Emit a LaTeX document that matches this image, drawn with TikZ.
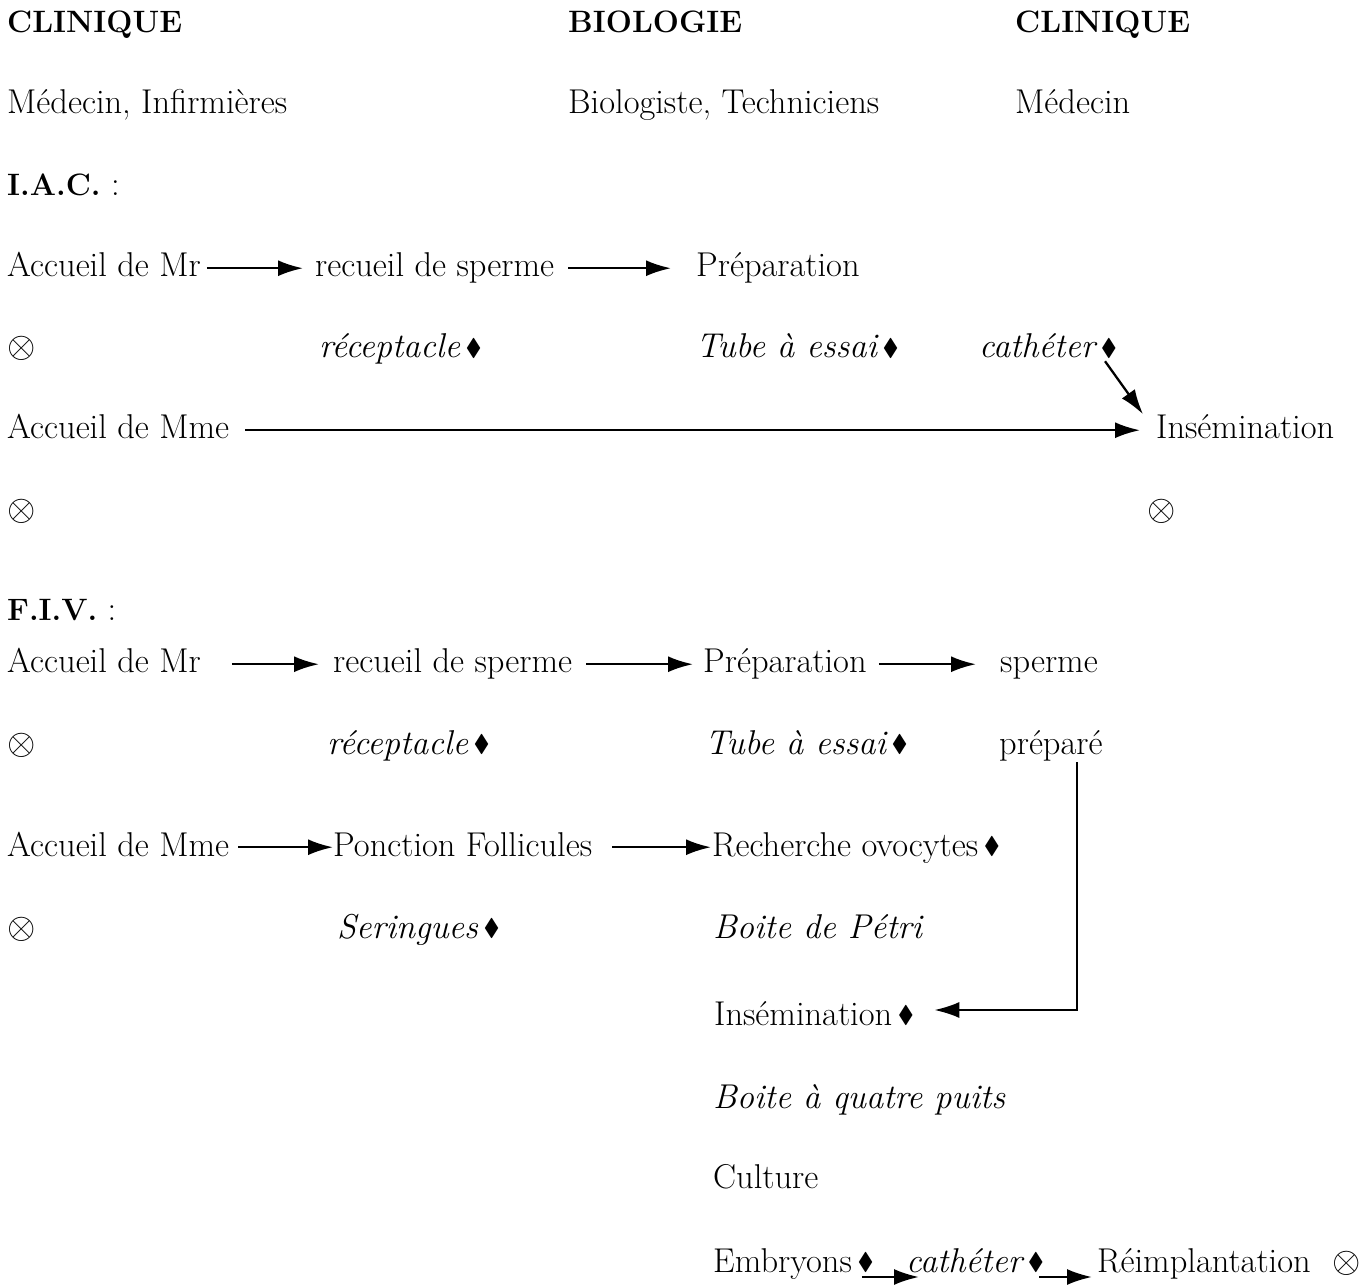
\documentclass[tikz,border=0pt]{standalone}
\usepackage{amssymb}
\usetikzlibrary{arrows.meta}
\newcommand{\dmd}{\,\raisebox{.15ex}{$\scriptstyle\blacklozenge$}}
\newcommand{\hd}[1]{{\fontsize{17.6}{22}\selectfont\bfseries #1}}

\begin{document}
\begin{tikzpicture}[x=0.02cm, y=-0.02cm,
		txt/.style={anchor=base west, xshift=0.06cm, font=\fontsize{19.6}{24}\selectfont, text height=14pt, text depth=4pt},
		tool/.style={txt, font=\fontsize{19.6}{24}\selectfont\itshape},
		flow/.style={-{Latex[length=5mm,width=3.2mm]}, line width=1.3pt}]
		\useasboundingbox (0,0) rectangle (1367,1287);

		% en-tetes
		\node[txt] (clin1) at (-2,33) {\hd{CLINIQUE}};
		\node[txt] (bio) at (559,33) {\hd{BIOLOGIE}};
		\node[txt] (clin2) at (1006,33) {\hd{CLINIQUE}};
		\node[txt] (staff1) at (-2,114) {Médecin, Infirmières};
		\node[txt] (staff2) at (559,114) {Biologiste, Techniciens};
		\node[txt] (staff3) at (1006,114) {Médecin};

		% I.A.C.
		\node[txt] (iac) at (-2,196) {\hd{I.A.C.} :};
		\node[txt] (mr1) at (-2,277) {Accueil de Mr};
		\node[txt] (rec1) at (306,277) {recueil de sperme};
		\node[txt] (prep1) at (687,277) {Préparation};
		\node[txt] (x1) at (-2,358) {$\otimes$};
		\node[tool] (recp1) at (310,358) {réceptacle\dmd};
		\node[tool] (tube1) at (687,358) {Tube à essai\dmd};
		\node[tool] (cath1) at (970,358) {cathéter\dmd};
		\node[txt] (mme1) at (-2,439) {Accueil de Mme};
		\node[txt] (ins1) at (1147,439) {Insémination};
		\node[txt] (x2) at (-2,521) {$\otimes$};
		\node[txt] (x3) at (1138,521) {$\otimes$};

		\draw[flow, shorten >=0.12cm] (mr1.east) -- (mr1.east -| rec1.west);
		\draw[flow, shorten <=0.16cm, shorten >=0.38cm] (rec1.east) -- (rec1.east -| prep1.west);
		\draw[flow, shorten <=0.2cm, shorten >=0.2cm] (mme1.east) -- (mme1.east -| ins1.west);
		\draw[flow] ([shift={(-18,-10)}]cath1.south east) -- ([shift={(-7,6)}]ins1.north west);

		% F.I.V.
		\node[txt] (fiv) at (-2,621) {\hd{F.I.V.} :};
		\node[txt] (mr2) at (-2,673) {Accueil de Mr};
		\node[txt] (rec2) at (324,673) {recueil de sperme};
		\node[txt] (prep2) at (694,673) {Préparation};
		\node[txt] (sperme) at (991,673) {sperme};
		\node[txt] (x4) at (-2,754) {$\otimes$};
		\node[tool] (recp2) at (318,754) {réceptacle\dmd};
		\node[tool] (tube2) at (696,754) {Tube à essai\dmd};
		\node[txt] (prepa) at (990,754) {préparé};
		\node[txt] (mme2) at (-2,856) {Accueil de Mme};
		\node[txt] (ponc) at (324,856) {Ponction Follicules};
		\node[txt] (rech) at (703,856) {Recherche ovocytes\dmd};
		\node[txt] (x5) at (-2,938) {$\otimes$};
		\node[tool] (ser) at (328,938) {Seringues\dmd};
		\node[tool] (petri) at (704,938) {Boite de Pétri};
		\node[txt] (ins2) at (705,1025) {Insémination\dmd};
		\node[tool] (puits) at (704,1108) {Boite à quatre puits};
		\node[txt] (cult) at (704,1188) {Culture};
		\node[txt] (emb) at (704,1272) {Embryons\dmd};
		\node[tool] (cath2) at (897,1272) {cathéter\dmd};
		\node[txt] (reimp) at (1088,1272) {Réimplantation};
		\node[txt] (x6) at (1323,1272) {$\otimes$};
		\coordinate (bend) at (1077,1010);

		\draw[flow, shorten <=0.5cm, shorten >=0.16cm] (mr2.east) -- (mr2.east -| rec2.west);
		\draw[flow, shorten <=0.16cm, shorten >=0.08cm] (rec2.east) -- (rec2.east -| prep2.west);
		\draw[flow, shorten <=0.12cm, shorten >=0.36cm] (prep2.east) -- (prep2.east -| sperme.west);
		\draw[flow, shorten <=0.06cm, shorten >=-0.12cm] (mme2.east) -- (mme2.east -| ponc.west);
		\draw[flow, shorten <=0.28cm, shorten >=-0.1cm] (ponc.east) -- (ponc.east -| rech.west);
		\draw[flow, shorten >=0.28cm] ([yshift=0.1cm]prepa.south -| bend) -- (bend) -- (bend -| ins2.east);
		\draw[flow] ([shift={(-18,5)}]emb.base east) -- ([shift={(19,5)}]cath2.base west);
		\draw[flow] ([shift={(-11,5)}]cath2.base east) -- ([shift={(1,5)}]reimp.base west);
	\end{tikzpicture}
\end{document}
